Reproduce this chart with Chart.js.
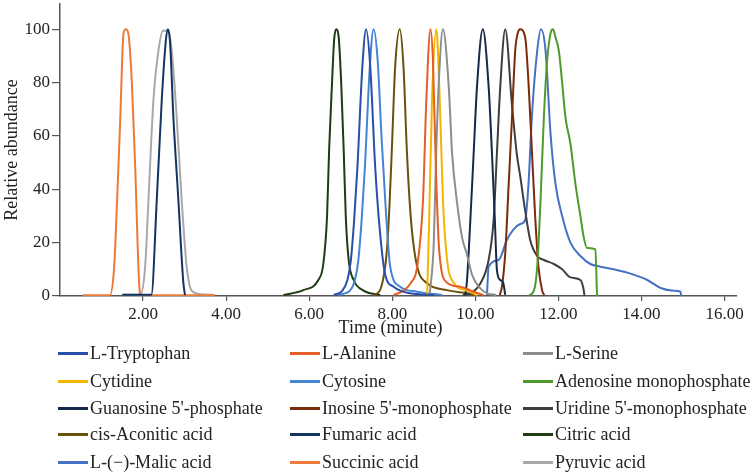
<!DOCTYPE html>
<html><head><meta charset="utf-8">
<script src="https://cdn.jsdelivr.net/npm/chart.js@4.4.1/dist/chart.umd.min.js"></script>
<style>
html,body{margin:0;padding:0;background:#fff;}
#wrap{position:relative;width:753px;height:473px;overflow:hidden;}
#c{position:absolute;left:0;top:0;}
.lg{position:absolute;font-family:"Liberation Serif","Times New Roman",serif;font-size:18px;color:#222;white-space:nowrap;line-height:20px;height:20px;display:flex;align-items:center;}
.lg i{display:inline-block;width:30px;height:3px;margin-right:2px;}
</style></head>
<body><div id="wrap"><canvas id="c" width="753" height="473"></canvas></div>
<script>
// ---- data: [time (min), relative abundance] ----
const tryptophan = [[6.59,0.4],[6.8,2],[6.92,6],[7.0,13],[7.08,28],[7.16,48],[7.28,86],[7.37,100],[7.47,86],[7.59,48],[7.71,23],[7.83,8],[8.03,3.5],[8.43,1],[9.0,0.4]];
const alanine = [[8.03,0.4],[8.27,2],[8.45,5],[8.6,11],[8.74,36],[8.82,73.5],[8.92,100],[8.98,88],[9.05,48],[9.13,17],[9.32,5],[9.64,3.5],[9.96,1.6],[10.2,0.3]];
const serine = [[8.9,0.4],[9.0,20],[9.06,55],[9.12,80],[9.22,100],[9.36,78.5],[9.44,53.6],[9.56,35],[9.68,22],[9.8,15.5],[9.92,8],[10.08,3.5],[10.28,1],[10.5,0.4]];
const cytidine = [[8.84,0.3],[8.88,23.5],[8.96,75],[9.06,100],[9.14,75],[9.22,36],[9.32,13.5],[9.48,5],[9.8,2],[10.04,0.3]];
const cytosine = [[6.7,0.4],[6.98,2],[7.1,6],[7.18,13],[7.26,28],[7.34,48],[7.46,86],[7.55,100],[7.65,88],[7.74,60],[7.83,36],[7.95,11],[8.19,3.5],[8.6,1.6],[9.2,0.4]];
const adenosineMP = [[11.3,0.3],[11.41,2],[11.49,11],[11.57,36],[11.65,67],[11.73,88.5],[11.81,98.5],[11.87,100],[11.93,97],[12.01,92],[12.09,80],[12.17,67],[12.29,57],[12.41,42],[12.53,30],[12.61,22],[12.69,18],[12.89,17.5],[12.93,0]];
const guanosineP = [[9.76,0.4],[9.8,6],[9.88,28.5],[9.96,53.6],[10.04,78.5],[10.18,100],[10.32,78.5],[10.4,53.6],[10.47,28.5],[10.52,9.7],[10.6,6],[10.67,5],[10.72,0.4]];
const inosineMP = [[10.59,0.4],[10.64,3.5],[10.72,16],[10.8,41],[10.88,66],[10.96,92],[11.02,98.5],[11.08,100],[11.2,97],[11.28,80],[11.36,55],[11.44,30],[11.52,11],[11.61,2],[11.66,0.3]];
const uridineMP = [[9.7,0.4],[9.88,1],[10.12,4.7],[10.32,13.5],[10.44,28.5],[10.52,53.6],[10.6,78.5],[10.72,100],[10.88,72],[11.0,53],[11.08,45],[11.2,32],[11.32,21],[11.49,15],[11.65,13.5],[11.89,12],[12.09,10],[12.29,7],[12.53,6],[12.6,3],[12.63,0]];
const cisAconitic = [[7.55,0.4],[7.7,2],[7.8,8],[7.87,17],[7.93,33],[7.99,55],[8.07,86],[8.18,100],[8.27,86],[8.35,55],[8.42,35],[8.48,23.5],[8.6,11],[8.84,4.75],[9.32,2.2],[9.8,1],[10.0,0.4]];
const fumaric = [[1.5,0.5],[2.2,0.5],[2.33,36],[2.45,73.5],[2.55,96],[2.6,100],[2.65,95],[2.73,67],[2.85,36],[2.97,5],[3.01,0.3]];
const citric = [[5.38,0.4],[5.86,2.2],[6.22,6],[6.34,12],[6.43,30],[6.48,55],[6.55,80],[6.6,96],[6.65,100],[6.71,97],[6.77,80],[6.83,55],[6.88,30],[6.95,13.5],[7.07,6],[7.31,2],[7.71,0.4]];
const malic = [[10.28,0.4],[10.32,11],[10.56,13.5],[10.76,21],[10.92,25],[11.08,27],[11.2,28.5],[11.28,42],[11.36,67],[11.49,92],[11.58,100],[11.69,92],[11.81,61],[11.93,42],[12.09,30],[12.29,20],[12.53,15],[12.77,12],[13.01,11],[13.33,10],[13.81,8],[14.14,6],[14.46,3],[14.78,2],[14.94,1.6],[14.96,0]];
const succinic = [[0.55,0.3],[1.2,0.3],[1.3,10],[1.36,30],[1.45,66],[1.53,98.5],[1.59,100],[1.65,98],[1.73,80],[1.81,48.5],[1.91,3.5],[1.95,0.3],[3.73,0.3]];
const pyruvic = [[1.5,0.5],[1.93,0.5],[2.05,11],[2.13,36],[2.25,73.5],[2.37,92],[2.48,99.5],[2.61,99.5],[2.69,92],[2.81,67],[2.93,36],[3.05,11],[3.17,2],[3.37,0.7],[3.73,0.4]];

const seriesNames = ["L-Tryptophan","L-Alanine","L-Serine","Cytidine","Cytosine","Adenosine monophosphate","Guanosine 5'-phosphate","Inosine 5'-monophosphate","Uridine 5'-monophosphate","cis-Aconitic acid","Fumaric acid","Citric acid","L-(\u2212)-Malic acid","Succinic acid","Pyruvic acid"];
const seriesData = [tryptophan, alanine, serine, cytidine, cytosine, adenosineMP, guanosineP, inosineMP, uridineMP, cisAconitic, fumaric, citric, malic, succinic, pyruvic];
const seriesColors = ["#2a4fa8","#e45f28","#8e8e8e","#f4b400","#4584d2","#4e9b2c","#16294a","#7a2c0a","#3e3e3e","#6b5108","#113560","#1f3c14","#4672c6","#ec7b3a","#a8a8a8"];
const xTicks = [2,4,6,8,10,12,14,16];
const yTicks = [0,20,40,60,80,100];

const FONT = '"Liberation Serif", "Times New Roman", serif';

const datasets = seriesNames.map((n,i)=>({
  label: n,
  data: seriesData[i].map(p=>({x:p[0], y:p[1]})),
  borderColor: seriesColors[i],
  backgroundColor: seriesColors[i],
  borderWidth: 2,
  pointRadius: 0,
  fill: false,
  cubicInterpolationMode: 'monotone'
}));

const xTitlePlugin = {
  id: 'xTitle',
  afterDraw(chart){
    const {ctx, chartArea} = chart;
    ctx.save();
    ctx.font = '18px ' + FONT;
    ctx.fillStyle = '#222';
    ctx.textAlign = 'center';
    ctx.textBaseline = 'middle';
    ctx.fillText('Time (minute)', (chartArea.left + chartArea.right)/2 - 8, 328);
    ctx.restore();
  }
};

new Chart(document.getElementById('c'), {
  type: 'line',
  data: { datasets },
  plugins: [xTitlePlugin],
  options: {
    responsive: false,
    animation: false,
    layout: { padding: { top: 4, right: 16, left: 0, bottom: 0 } },
    plugins: { legend: { display: false }, tooltip: { enabled: false } },
    scales: {
      x: {
        type: 'linear', min: 0, max: 16.3,
        afterBuildTicks: s => { s.ticks = xTicks.map(v=>({value:v})); },
        afterFit: s => { s.height = 177; s.paddingRight = 0; s.paddingLeft = 0; },
        ticks: { callback: v => Number(v).toFixed(2), font: { family: FONT, size: 17 }, color: '#222', padding: 3, maxRotation: 0, autoSkip: false },
        grid: { display: true, drawOnChartArea: false, drawTicks: true, tickLength: 5, color: '#555', lineWidth: 1.2 },
        border: { display: true, color: '#555', width: 1.5 }
      },
      y: {
        type: 'linear', min: 0, max: 109.5,
        afterBuildTicks: s => { s.ticks = yTicks.map(v=>({value:v})); },
        afterFit: s => { s.width = 60; s.paddingTop = 0; s.paddingBottom = 0; },
        ticks: { font: { family: FONT, size: 17 }, color: '#222', padding: 2 },
        grid: { display: true, drawOnChartArea: false, drawTicks: true, tickLength: 8, color: '#555', lineWidth: 1.2 },
        border: { display: true, color: '#555', width: 1.5 },
        title: { display: true, text: 'Relative abundance', font: { family: FONT, size: 18 }, color: '#222', padding: { top: 1, bottom: 0 } }
      }
    }
  }
});

// HTML legend, 3 columns x 5 rows, built from the series arrays
const colX = [58, 290, 523];
const rowY = [353, 381, 408, 434, 462];
const wrap = document.getElementById('wrap');
seriesNames.forEach((n,i)=>{
  const d = document.createElement('div');
  d.className = 'lg';
  d.style.left = colX[i%3] + 'px';
  d.style.top = (rowY[Math.floor(i/3)] - 10) + 'px';
  const sw = document.createElement('i');
  sw.style.background = seriesColors[i];
  d.appendChild(sw);
  d.appendChild(document.createTextNode(n));
  wrap.appendChild(d);
});
</script>
</body></html>
